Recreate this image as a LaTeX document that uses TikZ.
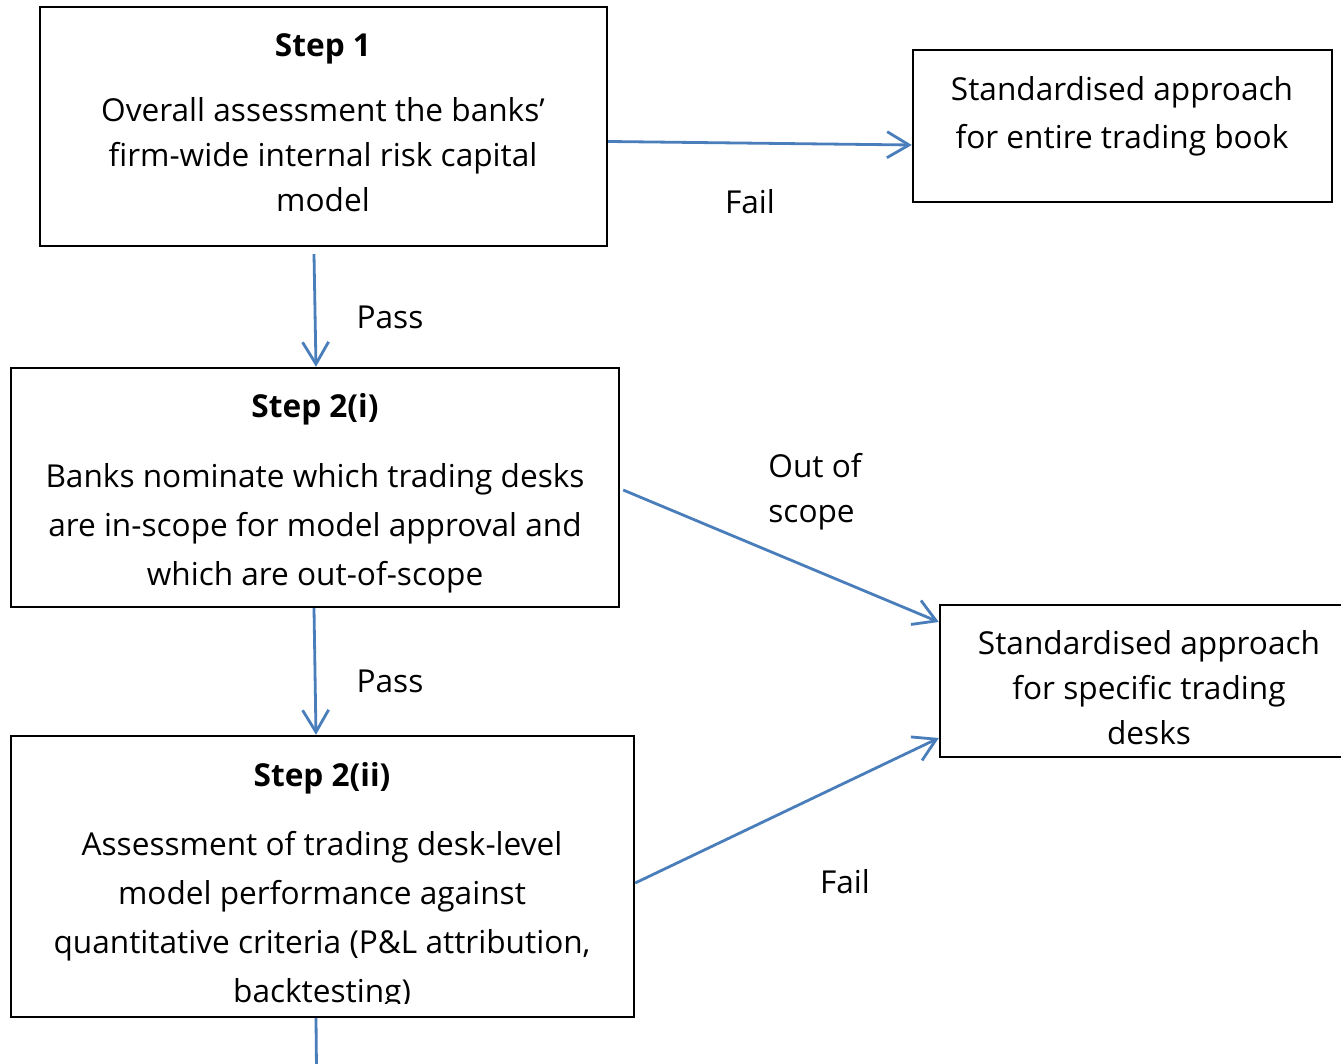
\documentclass[tikz,border=0pt]{standalone}
\usepackage{fontspec}
\setmainfont{Open Sans}
\usetikzlibrary{arrows.meta,positioning}
\definecolor{linkblue}{HTML}{4A7EBB}
\tikzset{
    box/.style={draw, line width=1.2pt, inner sep=0pt},
    steptitle/.style={font=\fontsize{15.8}{18}\selectfont\bfseries, inner sep=0pt, anchor=mid},
    bodytext/.style={font=\fontsize{15.8}{#1}\selectfont, align=center, inner sep=0pt, anchor=mid},
    bodytext/.default={22.5pt},
    link/.style={draw=linkblue, line width=1.4pt, -{Straight Barb[length=11pt,width=13pt,line width=1.4pt]}},
    lbl/.style={font=\fontsize{15.8}{22.5}\selectfont, inner sep=0pt, anchor=mid}
}
\begin{document}
\begin{tikzpicture}[x=0.5pt, y=-0.5pt]
                \useasboundingbox (0,0) rectangle (1341,1064);
                \clip (0,0) rectangle (1341,1064);
                
                % Boxes
                \node[box, minimum width=283.5pt, minimum height=119.5pt] (s1) at (323.5,126.5) {};
                \node[box, minimum width=209.5pt, minimum height=76pt] (sabook) at (1122.5,126) {};
                \node[box, minimum width=304pt, minimum height=119.5pt] (s2i) at (315,487.5) {};
                \node[box, minimum width=209pt, minimum height=76pt] (sadesk) at (1149,681) {};
                \node[box, minimum width=311.5pt, minimum height=140.5pt] (s2ii) at (322.5,876.5) {};
                
                % Box texts (placed by their last line)
                \node[steptitle] (s1title) at (323,51) {Step 1};
                \node[bodytext] (s1body) at (323,206) {Overall assessment the banks’\\firm-wide internal risk capital\\model};
                \node[bodytext=24pt] (sabooktext) at (1122,143) {Standardised approach\\for entire trading book};
                \node[steptitle] (s2ititle) at (315,412) {Step 2(i)};
                \node[bodytext=24.5pt] (s2ibody) at (315,580) {Banks nominate which trading desks\\are in-scope for model approval and\\which are out-of-scope};
                \node[bodytext] (sadesktext) at (1149,739) {Standardised approach\\for specific trading\\desks};
                \node[steptitle] (s2iititle) at (322,781) {Step 2(ii)};
                \begin{scope}
                    \clip (11,736) rectangle (634,1003);
                    \node[bodytext=24.5pt] (s2iibody) at (322,997) {Assessment of trading desk-level\\model performance against\\quantitative criteria (P\&L attribution,\\backtesting)};
                \end{scope}
                
                % Connectors
                \draw[link] ([yshift=-7.5pt]s1.east) -- ([yshift=-9.5pt]sabook.west);
                \draw[link] ([xshift=-4.75pt, yshift=-3.5pt]s1.south) -- ([xshift=0.5pt]s2i.north);
                \draw[link] ([xshift=1.5pt, yshift=-1.25pt]s2i.east) -- ([yshift=29.5pt]sadesk.west);
                \draw[link] ([xshift=-0.5pt]s2i.south) -- ([xshift=-3.25pt]s2ii.north);
                \draw[link] ([yshift=-3.25pt]s2ii.east) -- ([yshift=-28.5pt]sadesk.west);
                \coordinate (below) at (317,1120);
                \draw[link] ([xshift=-3.25pt]s2ii.south) -- (below);
                
                % Connector labels
                \node[lbl] (failbook) at (750,208) {Fail};
                \node[lbl] (pass1) at (390,323) {Pass};
                \node[lbl, align=left, anchor=west] (outscope) at (768,492) {Out of\\scope};
                \node[lbl] (pass2) at (390,687) {Pass};
                \node[lbl] (faildesk) at (845,888) {Fail};
            \end{tikzpicture}
\end{document}
